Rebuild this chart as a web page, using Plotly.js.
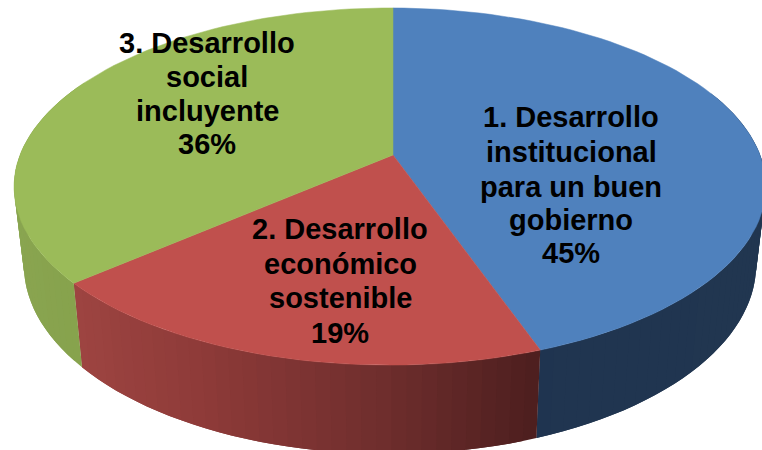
<!DOCTYPE html>
<html>
<head>
<meta charset="utf-8">
<script src="https://cdn.plot.ly/plotly-3.0.1.min.js"></script>
<style>html,body{margin:0;padding:0;background:#fff;overflow:hidden}#c{width:762px;height:450px}</style>
</head>
<body>
<div id="c"></div>
<script>
// Data
var categories = [["1. Desarrollo","institucional","para un buen","gobierno"],
                  ["2. Desarrollo","económico","sostenible"],
                  ["3. Desarrollo","social","incluyente"]];
var values = [44.6, 19.1, 36.3];
var topColors = ["#4f81bd", "#c0504d", "#9bbb59"];
var labelX = [571, 340, 207];
var labelY = [[117,152,187,220,253], [229,264,298,333], [43,77,111,144]];

// Wall shading stops, as [screen x, colour]
var wallStops = [
  [[500,[31,52,80]], [770,[33,54,80]]],
  [[80,[157,68,65]], [200,[143,59,57]], [390,[111,46,45]], [540,[78,31,31]]],
  [[0,[138,165,81]], [90,[134,162,76]]]
];

// Projection of the tilted disc
var cx = 393, cy = 155, A = 370, B = 173, K = 0.1765, M = 0.008;
var shrink = 0.974, depth0 = 67, depthK = 0.06;

function topPt(a){
  var u = Math.sin(a), v = Math.cos(a), w = 1 + K*v + M*u;
  return [cx + A*u/w, cy - B*v/w];
}
function botPt(a){
  var p = topPt(a);
  return [cx + (p[0]-cx)*shrink, p[1] + depth0 + depthK*p[1]];
}
function shade(stops, x){
  var c = stops[0][1];
  if (x >= stops[stops.length-1][0]) c = stops[stops.length-1][1];
  else for (var i=0;i<stops.length-1;i++){
    if (x>=stops[i][0] && x<=stops[i+1][0]){
      var t=(x-stops[i][0])/(stops[i+1][0]-stops[i][0]);
      c=[0,1,2].map(function(k){return stops[i][1][k]+(stops[i+1][1][k]-stops[i][1][k])*t;});
      break;
    }
  }
  return "rgb("+c.map(Math.round).join(",")+")";
}

var total = values.reduce(function(s,v){return s+v;},0);
var traces = [], faces = [], annotations = [];
var acc = 0, DEG = Math.PI/180, STEP = 2*DEG;
values.forEach(function(val,i){
  var a0 = acc/total*2*Math.PI, a1 = (acc+val)/total*2*Math.PI;
  acc += val;
  var n = Math.ceil((a1-a0)/STEP);
  var fx=[cx], fy=[cy];
  for (var j=0;j<=n;j++){
    var a = a0+(a1-a0)*j/n, p = topPt(a);
    fx.push(p[0]); fy.push(p[1]);
    if (j<n && Math.cos(a) < 0.4){
      // each strip overlaps the next so no seams show between them
      var bs = [];
      for (var m=j; m<=Math.min(j+2,n); m++) bs.push(a0+(a1-a0)*m/n);
      var tx=[],ty=[],lx=[],ly=[];
      bs.forEach(function(b){
        var t=topPt(b), o=botPt(b);
        tx.push(t[0]); ty.push(t[1]); lx.unshift(o[0]); ly.unshift(o[1]);
      });
      var col = shade(wallStops[i], p[0]);
      traces.push({type:"scatter",mode:"none",x:tx.concat(lx,[tx[0]]),y:ty.concat(ly,[ty[0]]),
        fill:"toself",fillcolor:col,hoverinfo:"skip",showlegend:false});
    }
  }
  fx.push(cx); fy.push(cy);
  faces.push({type:"scatter",mode:"lines",x:fx,y:fy,fill:"toself",fillcolor:topColors[i],
    line:{color:topColors[i],width:0.5},hoverinfo:"skip",showlegend:false});
  categories[i].concat([Math.round(val)+"%"]).forEach(function(line,k){
    annotations.push({x:labelX[i],y:labelY[i][k],xref:"x",yref:"y",showarrow:false,align:"center",
      xanchor:"center",yanchor:"middle",text:line,
      font:{family:"Liberation Sans, Arial, sans-serif",size:29,color:"#000",weight:700}});
  });
});

Plotly.newPlot("c", traces.concat(faces), {
  width:762,height:450,margin:{l:0,r:0,t:0,b:0},
  paper_bgcolor:"#fff",plot_bgcolor:"#fff",showlegend:false,
  xaxis:{range:[0,762],visible:false,fixedrange:true},
  yaxis:{range:[450,0],visible:false,fixedrange:true},
  annotations:annotations
},{displayModeBar:false,staticPlot:true});
</script>
</body>
</html>
